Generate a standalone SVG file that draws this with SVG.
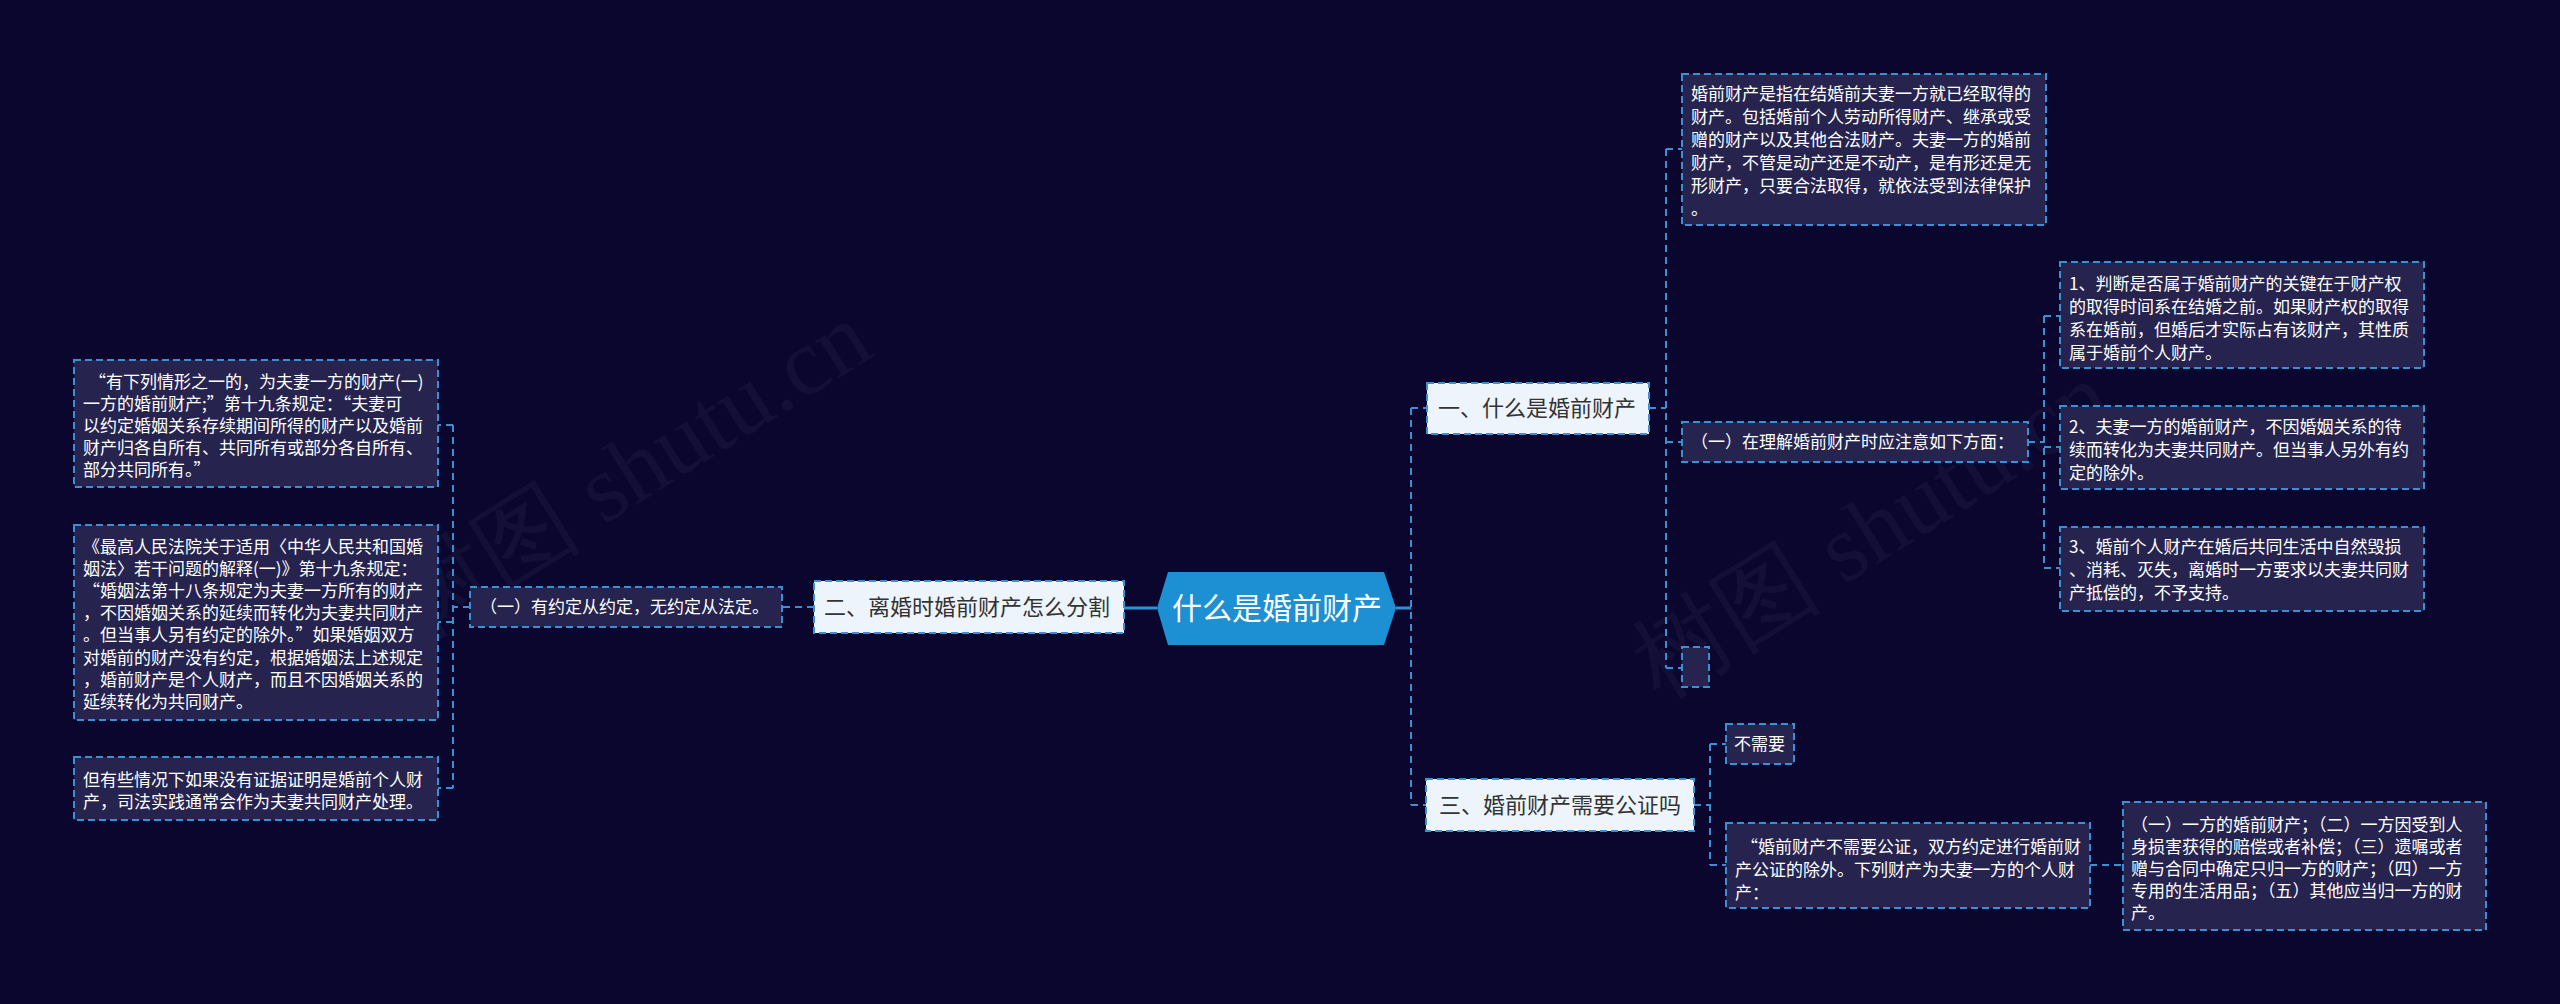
<svg xmlns="http://www.w3.org/2000/svg" width="2560" height="1004" viewBox="0 0 2560 1004">
<style>
.bg{fill:#0b062e}
.box{fill:#26244f;stroke:#3b8fd4;stroke-width:2;stroke-dasharray:7 4}
.lbox{fill:#eef4fb;stroke:#3b8fd4;stroke-width:2;stroke-dasharray:7 4}
.t{font-family:"Noto Sans CJK SC","Noto Sans",sans-serif;font-size:17px;fill:#ffffff}
.lt{font-family:"Noto Sans CJK SC","Noto Sans",sans-serif;font-size:22px;fill:#333333}
.ct{font-family:"Noto Sans CJK SC","Noto Sans",sans-serif;font-size:30px;fill:#ffffff}
.dl{fill:none;stroke:#3b8fd4;stroke-width:2;stroke-dasharray:7 5}
.sl{fill:none;stroke:#2a93d5;stroke-width:3}
.wm{font-family:"Liberation Serif",serif;font-size:96px;fill:#ffffff;fill-opacity:0.04}
</style>
<rect class="bg" x="0" y="0" width="2560" height="1004"/>
<text class="wm" transform="translate(420,640) rotate(-32)">树图 shutu.cn</text>
<text class="wm" transform="translate(1660,700) rotate(-32)">树图 shutu.cn</text>

<g id="connectors">
  <path class="sl" d="M1396 608 H1411"/>
  <path class="sl" d="M1157 608 H1124"/>
  <path class="dl" d="M1411 408 V805"/>
  <path class="dl" d="M1411 408 H1427"/>
  <path class="dl" d="M1411 805 H1426"/>
  <path class="dl" d="M1649 408 H1666"/>
  <path class="dl" d="M1666 149 V668"/>
  <path class="dl" d="M1666 149 H1682"/>
  <path class="dl" d="M1666 442 H1682"/>
  <path class="dl" d="M1666 668 H1682"/>
  <path class="dl" d="M2028 442 H2044"/>
  <path class="dl" d="M2044 316 V568"/>
  <path class="dl" d="M2044 316 H2060"/>
  <path class="dl" d="M2044 447 H2060"/>
  <path class="dl" d="M2044 568 H2060"/>
  <path class="dl" d="M1694 805 H1710"/>
  <path class="dl" d="M1710 744 V865"/>
  <path class="dl" d="M1710 744 H1726"/>
  <path class="dl" d="M1710 865 H1726"/>
  <path class="dl" d="M2090 865 H2123"/>
  <path class="dl" d="M814 607 H782"/>
  <path class="dl" d="M470 607 H453"/>
  <path class="dl" d="M453 425 V788"/>
  <path class="dl" d="M453 425 H438"/>
  <path class="dl" d="M453 622 H438"/>
  <path class="dl" d="M453 788 H438"/>
</g>

<g id="center">
  <polygon points="1157,608 1168,572 1384,572 1396,608 1384,645 1168,645" fill="#1d8fd3"/>
  <text class="ct" x="1172" y="619">什么是婚前财产</text>
</g>

<g id="n1">
  <rect class="lbox" x="1427" y="383" width="222" height="51"/>
  <text class="lt" x="1438" y="416">一、什么是婚前财产</text>
</g>
<g id="n1a">
  <rect class="box" x="1682" y="74" width="364" height="151"/>
  <text class="t" x="1691" y="100">婚前财产是指在结婚前夫妻一方就已经取得的</text>
  <text class="t" x="1691" y="123">财产。包括婚前个人劳动所得财产、继承或受</text>
  <text class="t" x="1691" y="146">赠的财产以及其他合法财产。夫妻一方的婚前</text>
  <text class="t" x="1691" y="169">财产，不管是动产还是不动产，是有形还是无</text>
  <text class="t" x="1691" y="192">形财产，只要合法取得，就依法受到法律保护</text>
  <text class="t" x="1691" y="215">。</text>
</g>
<g id="n1b">
  <rect class="box" x="1682" y="422" width="346" height="40"/>
  <text class="t" x="1691" y="448">（一）在理解婚前财产时应注意如下方面：</text>
</g>
<g id="n1c">
  <rect class="box" x="1682" y="647" width="27" height="40"/>
</g>
<g id="n1b1">
  <rect class="box" x="2060" y="262" width="364" height="106"/>
  <text class="t" x="2069" y="290">1、判断是否属于婚前财产的关键在于财产权</text>
  <text class="t" x="2069" y="313">的取得时间系在结婚之前。如果财产权的取得</text>
  <text class="t" x="2069" y="336">系在婚前，但婚后才实际占有该财产，其性质</text>
  <text class="t" x="2069" y="359">属于婚前个人财产。</text>
</g>
<g id="n1b2">
  <rect class="box" x="2060" y="406" width="364" height="83"/>
  <text class="t" x="2069" y="433">2、夫妻一方的婚前财产，不因婚姻关系的待</text>
  <text class="t" x="2069" y="456">续而转化为夫妻共同财产。但当事人另外有约</text>
  <text class="t" x="2069" y="479">定的除外。</text>
</g>
<g id="n1b3">
  <rect class="box" x="2060" y="527" width="364" height="84"/>
  <text class="t" x="2069" y="553">3、婚前个人财产在婚后共同生活中自然毁损</text>
  <text class="t" x="2069" y="576">、消耗、灭失，离婚时一方要求以夫妻共同财</text>
  <text class="t" x="2069" y="599">产抵偿的，不予支持。</text>
</g>

<g id="n3">
  <rect class="lbox" x="1426" y="779" width="268" height="52"/>
  <text class="lt" x="1439" y="813">三、婚前财产需要公证吗</text>
</g>
<g id="n3a">
  <rect class="box" x="1726" y="724" width="68" height="40"/>
  <text class="t" x="1734" y="750">不需要</text>
</g>
<g id="n3b">
  <rect class="box" x="1726" y="823" width="364" height="85"/>
  <text class="t" x="1741" y="853">“婚前财产不需要公证，双方约定进行婚前财</text>
  <text class="t" x="1735" y="876">产公证的除外。下列财产为夫妻一方的个人财</text>
  <text class="t" x="1735" y="899">产：</text>
</g>
<g id="n3b1">
  <rect class="box" x="2123" y="802" width="363" height="128"/>
  <text class="t" x="2131" y="831">（一）一方的婚前财产；（二）一方因受到人</text>
  <text class="t" x="2131" y="853">身损害获得的赔偿或者补偿；（三）遗嘱或者</text>
  <text class="t" x="2131" y="875">赠与合同中确定只归一方的财产；（四）一方</text>
  <text class="t" x="2131" y="897">专用的生活用品；（五）其他应当归一方的财</text>
  <text class="t" x="2131" y="919">产。</text>
</g>

<g id="n2">
  <rect class="lbox" x="814" y="581" width="310" height="52"/>
  <text class="lt" x="824" y="615">二、离婚时婚前财产怎么分割</text>
</g>
<g id="n2a">
  <rect class="box" x="470" y="587" width="312" height="40"/>
  <text class="t" x="480" y="613">（一）有约定从约定，无约定从法定。</text>
</g>
<g id="n2a1">
  <rect class="box" x="74" y="360" width="364" height="127"/>
  <text class="t" x="89" y="388">“有下列情形之一的，为夫妻一方的财产(一)</text>
  <text class="t" x="83" y="410">一方的婚前财产;”第十九条规定：“夫妻可</text>
  <text class="t" x="83" y="432">以约定婚姻关系存续期间所得的财产以及婚前</text>
  <text class="t" x="83" y="454">财产归各自所有、共同所有或部分各自所有、</text>
  <text class="t" x="83" y="476">部分共同所有。”</text>
</g>
<g id="n2a2">
  <rect class="box" x="74" y="525" width="364" height="195"/>
  <text class="t" x="83" y="553">《最高人民法院关于适用〈中华人民共和国婚</text>
  <text class="t" x="83" y="575">姻法〉若干问题的解释(一)》第十九条规定：</text>
  <text class="t" x="83" y="597">“婚姻法第十八条规定为夫妻一方所有的财产</text>
  <text class="t" x="83" y="619">，不因婚姻关系的延续而转化为夫妻共同财产</text>
  <text class="t" x="83" y="641">。但当事人另有约定的除外。”如果婚姻双方</text>
  <text class="t" x="83" y="664">对婚前的财产没有约定，根据婚姻法上述规定</text>
  <text class="t" x="83" y="686">，婚前财产是个人财产，而且不因婚姻关系的</text>
  <text class="t" x="83" y="708">延续转化为共同财产。</text>
</g>
<g id="n2a3">
  <rect class="box" x="74" y="757" width="364" height="63"/>
  <text class="t" x="83" y="786">但有些情况下如果没有证据证明是婚前个人财</text>
  <text class="t" x="83" y="808">产，司法实践通常会作为夫妻共同财产处理。</text>
</g>
</svg>
